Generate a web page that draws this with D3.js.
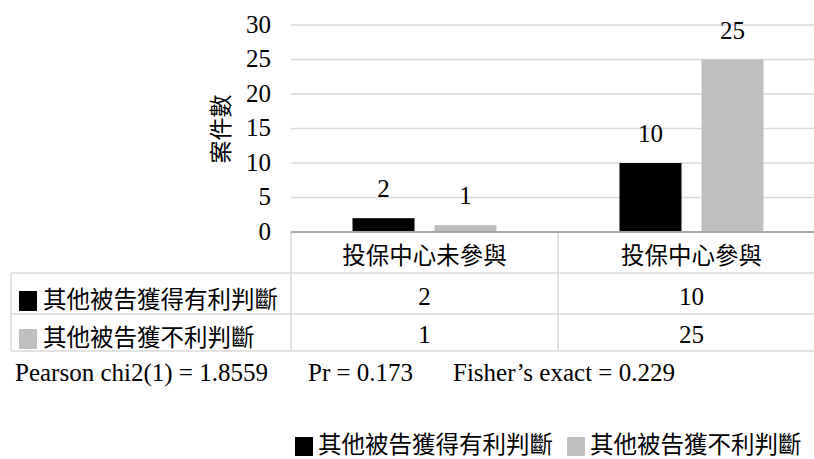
<!DOCTYPE html>
<html>
<head>
<meta charset="utf-8">
<script src="https://cdn.jsdelivr.net/npm/d3@7"></script>
<style>
  html, body { margin: 0; padding: 0; background: #fff; }
  svg { display: block; }
</style>
</head>
<body>
<svg id="chart" width="814" height="459"></svg>
<script>
// Categories, series and values
const categories = ["投保中心未參與", "投保中心參與"];
const seriesNames = ["其他被告獲得有利判斷", "其他被告獲不利判斷"];
const seriesColors = ["#000000", "#bfbfbf"];
const favourable = [2, 10];
const unfavourable = [1, 25];
const yTicks = [0, 5, 10, 15, 20, 25, 30];
const yTitle = "案件數";
const statsLines = ["Pearson chi2(1) = 1.8559", "Pr = 0.173", "Fisher’s exact = 0.229"];

const seriesValues = [favourable, unfavourable];

const SERIF = "'Liberation Serif', 'Times New Roman', 'DejaVu Serif', serif";
const CJK = "'Noto Sans CJK TC', 'Noto Sans CJK SC', sans-serif";
const NUM_SIZE = "25px";
const CJK_SIZE = "23.5px";

const svg = d3.select("#chart");

// Plot frame
const plotLeft = 291, plotRight = 825, plotTop = 25, plotBottom = 232;
const tableLeft = 11;
const rowLines = [273, 314, 351];

const x0 = d3.scaleBand().domain(categories).range([plotLeft, plotRight]).padding(0);
const x1 = d3.scaleBand().domain(seriesNames).range([0, x0.bandwidth()])
  .paddingInner(0.244).paddingOuter(0.75);
const y = d3.scaleLinear().domain([0, 30]).range([plotBottom, plotTop]);

// Gridlines
svg.append("g").selectAll("line").data(yTicks.filter(d => d > 0)).join("line")
  .attr("x1", plotLeft).attr("x2", plotRight)
  .attr("y1", d => y(d)).attr("y2", d => y(d))
  .attr("stroke", "#d9d9d9").attr("stroke-width", 1.5);

// Y axis tick labels
const yAxis = d3.axisLeft(y).tickValues(yTicks).tickSize(0).tickPadding(20);
const gy = svg.append("g").attr("transform", `translate(${plotLeft},0)`).call(yAxis);
gy.select(".domain").remove();
gy.attr("font-family", null).attr("font-size", null);
gy.selectAll("text").style("font-family", SERIF).style("font-size", NUM_SIZE)
  .attr("fill", "#000").attr("dy", "0.28em");

// Y axis title
svg.append("text")
  .attr("transform", `translate(219,129) rotate(-90)`)
  .attr("text-anchor", "middle").attr("dominant-baseline", "central")
  .style("font-family", CJK).style("font-size", "23px").attr("fill", "#000").text(yTitle);

// Bars
const groups = svg.append("g").selectAll("g").data(categories).join("g")
  .attr("transform", d => `translate(${x0(d)},0)`);
groups.selectAll("rect")
  .data((c, ci) => seriesNames.map((s, si) => ({ s, si, v: seriesValues[si][ci] })))
  .join("rect")
  .attr("x", d => x1(d.s)).attr("width", x1.bandwidth())
  .attr("y", d => y(d.v)).attr("height", d => y(0) - y(d.v))
  .attr("fill", d => seriesColors[d.si]);

// Value labels
groups.selectAll("text.val")
  .data((c, ci) => seriesNames.map((s, si) => ({ s, si, v: seriesValues[si][ci] })))
  .join("text").attr("class", "val")
  .attr("x", d => x1(d.s) + x1.bandwidth() / 2)
  .attr("y", d => y(d.v) - 21)
  .attr("text-anchor", "middle")
  .style("font-family", SERIF).style("font-size", NUM_SIZE).attr("fill", "#000")
  .text(d => d.v);

// Data table lines
const tbl = svg.append("g").attr("stroke", "#d9d9d9").attr("stroke-width", 1.5);
rowLines.forEach(ry => {
  tbl.append("line").attr("x1", tableLeft).attr("x2", plotRight).attr("y1", ry).attr("y2", ry);
});
tbl.append("line").attr("x1", tableLeft).attr("x2", tableLeft).attr("y1", rowLines[0]).attr("y2", rowLines[2]);
categories.forEach(c => {
  tbl.append("line").attr("x1", x0(c)).attr("x2", x0(c)).attr("y1", plotBottom).attr("y2", rowLines[2]);
});
tbl.append("line").attr("x1", plotRight).attr("x2", plotRight).attr("y1", plotBottom).attr("y2", rowLines[2]);

// Category axis line
svg.append("line").attr("x1", plotLeft).attr("x2", plotRight).attr("y1", plotBottom).attr("y2", plotBottom)
  .attr("stroke", "#a6a6a6").attr("stroke-width", 2);

// Category header labels
svg.append("g").selectAll("text").data(categories).join("text")
  .attr("x", d => x0(d) + x0.bandwidth() / 2).attr("y", 264)
  .attr("text-anchor", "middle")
  .style("font-family", CJK).style("font-size", CJK_SIZE).attr("fill", "#000")
  .text(d => d);

// Table rows: legend key, series name, values
const rowBase = [308, 346];
seriesNames.forEach((s, si) => {
  svg.append("rect").attr("x", 19).attr("y", rowBase[si] - 17)
    .attr("width", 18).attr("height", 20).attr("fill", seriesColors[si]);
  svg.append("text").attr("x", 43).attr("y", rowBase[si])
    .style("font-family", CJK).style("font-size", CJK_SIZE).attr("fill", "#000").text(s);
  svg.append("g").selectAll("text").data(categories).join("text")
    .attr("x", d => x0(d) + x0.bandwidth() / 2).attr("y", rowBase[si] - 3)
    .attr("text-anchor", "middle")
    .style("font-family", SERIF).style("font-size", NUM_SIZE).attr("fill", "#000")
    .text((d, ci) => seriesValues[si][ci]);
});

// Test statistics line
const statsX = [15, 308, 453];
svg.append("g").selectAll("text").data(statsLines).join("text")
  .attr("x", (d, i) => statsX[i]).attr("y", 381)
  .style("font-family", SERIF).style("font-size", NUM_SIZE).attr("fill", "#000")
  .text(d => d);

// Bottom legend
const legX = [295, 567];
seriesNames.forEach((s, si) => {
  svg.append("rect").attr("x", legX[si]).attr("y", 437)
    .attr("width", 18).attr("height", 19).attr("fill", seriesColors[si]);
  svg.append("text").attr("x", legX[si] + 23).attr("y", 453)
    .style("font-family", CJK).style("font-size", CJK_SIZE).attr("fill", "#000").text(s);
});
</script>
</body>
</html>
